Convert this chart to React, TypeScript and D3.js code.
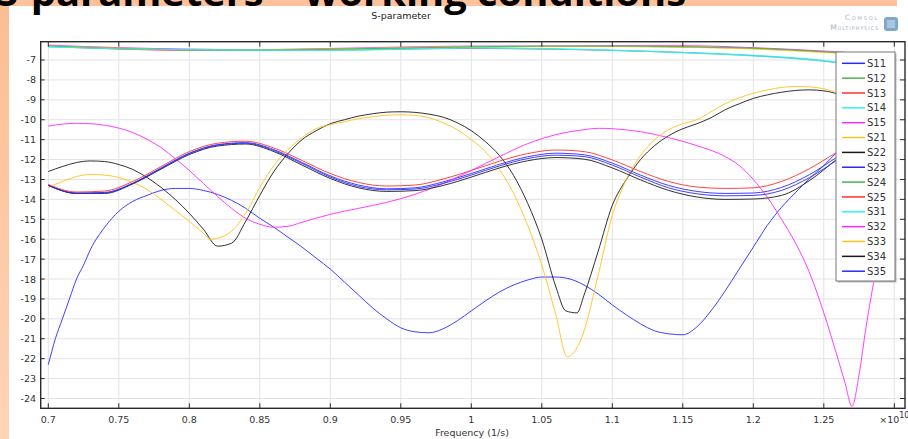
import React from 'react';
import * as d3 from 'd3';

const W = 908;
const H = 439;

// frequency axis (x 1e10) and dB axis
const xTicks = [0.7, 0.75, 0.8, 0.85, 0.9, 0.95, 1, 1.05, 1.1, 1.15, 1.2, 1.25, 1.3];
const yTicks = [-7, -8, -9, -10, -11, -12, -13, -14, -15, -16, -17, -18, -19, -20, -21, -22, -23, -24];

const names = ['S11', 'S12', 'S13', 'S14', 'S15', 'S21', 'S22', 'S23', 'S24', 'S25', 'S31', 'S32', 'S33', 'S34', 'S35'];
const colors = ['#2a2aff', '#4cb44c', '#ff3030', '#2af4f4', '#ff2aff', '#ffc21a', '#1a1a1a', '#2a2aff',
  '#4cb44c', '#ff3030', '#2af4f4', '#ff2aff', '#ffc21a', '#1a1a1a', '#2a2aff'];

const s11: [number, number][] = [[0.7, -22.3], [0.705, -21.0], [0.71, -20.0], [0.715, -19.0], [0.72, -18.0], [0.725, -17.3],
  [0.73, -16.5], [0.74, -15.4], [0.75, -14.6], [0.76, -14.1], [0.77, -13.8], [0.78, -13.55], [0.79, -13.45], [0.8, -13.45],
  [0.81, -13.55], [0.82, -13.75], [0.83, -14.05], [0.84, -14.45], [0.85, -14.95], [0.86, -15.4], [0.87, -15.9], [0.88, -16.4],
  [0.89, -16.95], [0.9, -17.5], [0.91, -18.15], [0.92, -18.8], [0.93, -19.45], [0.94, -20.0], [0.95, -20.45], [0.96, -20.65],
  [0.97, -20.7], [0.98, -20.5], [0.99, -20.1], [1.0, -19.6], [1.01, -19.1], [1.02, -18.65], [1.03, -18.3], [1.04, -18.05],
  [1.05, -17.9], [1.06, -17.9], [1.07, -18.0], [1.08, -18.3], [1.09, -18.75], [1.1, -19.3], [1.11, -19.8], [1.12, -20.25],
  [1.13, -20.6], [1.14, -20.75], [1.15, -20.8], [1.16, -20.4], [1.17, -19.6], [1.18, -18.6], [1.19, -17.5], [1.2, -16.4],
  [1.21, -15.3], [1.22, -14.4], [1.23, -13.65], [1.24, -12.95], [1.25, -12.3], [1.26, -11.6], [1.27, -11.1], [1.28, -10.9],
  [1.29, -10.8], [1.3, -10.85]];

const s12: [number, number][] = [[0.7, -6.3], [0.75, -6.4], [0.8, -6.48], [0.85, -6.48], [0.9, -6.45], [0.95, -6.4], [1.0, -6.35],
  [1.05, -6.32], [1.1, -6.32], [1.15, -6.35], [1.2, -6.42], [1.25, -6.6], [1.3, -6.8]];
const s13: [number, number][] = [[0.7, -6.32], [0.75, -6.45], [0.8, -6.52], [0.85, -6.5], [0.9, -6.5], [0.95, -6.45], [1.0, -6.42],
  [1.05, -6.45], [1.1, -6.52], [1.15, -6.62], [1.2, -6.78], [1.25, -7.05], [1.3, -7.55]];
const s14: [number, number][] = [[0.7, -6.35], [0.75, -6.42], [0.8, -6.5], [0.85, -6.52], [0.9, -6.5], [0.95, -6.45], [1.0, -6.38],
  [1.05, -6.42], [1.1, -6.5], [1.15, -6.62], [1.2, -6.76], [1.25, -7.02], [1.3, -7.56]];
const s15: [number, number][] = [[0.7, -6.25], [0.75, -6.38], [0.8, -6.45], [0.85, -6.48], [0.9, -6.42], [0.95, -6.35], [1.0, -6.3],
  [1.05, -6.3], [1.1, -6.28], [1.15, -6.28], [1.2, -6.38], [1.25, -6.55], [1.3, -6.78]];
const s21: [number, number][] = [[0.7, -6.3], [0.75, -6.4], [0.8, -6.48], [0.85, -6.48], [0.9, -6.44], [0.95, -6.38], [1.0, -6.33],
  [1.05, -6.32], [1.1, -6.32], [1.15, -6.36], [1.2, -6.45], [1.25, -6.62], [1.3, -6.8]];

const s22: [number, number][] = [[0.7, -12.6], [0.71, -12.35], [0.72, -12.15], [0.73, -12.07], [0.74, -12.1], [0.75, -12.25],
  [0.76, -12.5], [0.77, -12.9], [0.78, -13.4], [0.79, -14.0], [0.8, -14.7], [0.81, -15.5], [0.82, -16.35], [0.83, -16.2],
  [0.84, -15.1], [0.85, -13.8], [0.86, -12.6], [0.87, -11.7], [0.88, -11.0], [0.89, -10.55], [0.9, -10.2], [0.91, -10.0],
  [0.92, -9.82], [0.93, -9.7], [0.94, -9.62], [0.95, -9.6], [0.96, -9.63], [0.97, -9.72], [0.98, -9.87], [0.99, -10.15],
  [1.0, -10.55], [1.01, -11.1], [1.02, -11.8], [1.03, -12.8], [1.04, -14.2], [1.05, -16.0], [1.06, -18.4], [1.067, -19.6],
  [1.075, -19.7], [1.08, -18.8], [1.09, -16.6], [1.1, -14.3], [1.11, -13.0], [1.12, -12.0], [1.13, -11.3], [1.14, -10.8],
  [1.15, -10.45], [1.16, -10.2], [1.17, -9.9], [1.18, -9.5], [1.19, -9.2], [1.2, -8.93], [1.21, -8.75], [1.22, -8.62],
  [1.23, -8.53], [1.24, -8.5], [1.25, -8.55], [1.26, -8.72], [1.27, -9.1], [1.28, -9.8], [1.29, -10.6], [1.3, -11.5]];

const s23: [number, number][] = [[0.7, -13.28], [0.72, -13.68], [0.74, -13.65], [0.76, -13.18], [0.78, -12.42], [0.8, -11.68],
  [0.82, -11.25], [0.84, -11.15], [0.86, -11.5], [0.88, -12.15], [0.9, -12.82], [0.92, -13.28], [0.94, -13.47], [0.96, -13.42],
  [0.98, -13.12], [1.0, -12.7], [1.02, -12.24], [1.04, -11.86], [1.06, -11.68], [1.08, -11.76], [1.1, -12.18], [1.12, -12.78],
  [1.14, -13.3], [1.16, -13.6], [1.18, -13.7], [1.2, -13.68], [1.22, -13.4], [1.24, -12.75], [1.26, -11.85], [1.28, -11.0],
  [1.3, -10.3]];
const s24: [number, number][] = [[0.7, -6.3], [0.75, -6.42], [0.8, -6.5], [0.85, -6.5], [0.9, -6.46], [0.95, -6.4], [1.0, -6.34],
  [1.05, -6.3], [1.1, -6.3], [1.15, -6.33], [1.2, -6.4], [1.25, -6.58], [1.3, -6.82]];
const s25: [number, number][] = [[0.7, -13.25], [0.72, -13.63], [0.74, -13.58], [0.76, -13.1], [0.78, -12.35], [0.8, -11.6],
  [0.82, -11.18], [0.84, -11.08], [0.86, -11.42], [0.88, -12.05], [0.9, -12.7], [0.92, -13.15], [0.94, -13.33], [0.96, -13.28],
  [0.98, -12.98], [1.0, -12.55], [1.02, -12.08], [1.04, -11.7], [1.06, -11.52], [1.08, -11.6], [1.1, -12.02], [1.12, -12.6],
  [1.14, -13.1], [1.16, -13.38], [1.18, -13.45], [1.2, -13.42], [1.22, -13.1], [1.24, -12.45], [1.26, -11.6], [1.28, -10.8],
  [1.3, -10.1]];
const s31: [number, number][] = [[0.7, -6.33], [0.75, -6.44], [0.8, -6.48], [0.85, -6.5], [0.9, -6.52], [0.95, -6.47], [1.0, -6.4],
  [1.05, -6.44], [1.1, -6.52], [1.15, -6.64], [1.2, -6.8], [1.25, -7.06], [1.3, -7.56]];

const s32: [number, number][] = [[0.7, -10.32], [0.71, -10.22], [0.72, -10.18], [0.73, -10.2], [0.74, -10.28], [0.75, -10.42],
  [0.76, -10.65], [0.77, -10.98], [0.78, -11.4], [0.79, -11.95], [0.8, -12.55], [0.81, -13.2], [0.82, -13.85], [0.83, -14.45],
  [0.84, -14.95], [0.85, -15.25], [0.86, -15.4], [0.87, -15.35], [0.88, -15.15], [0.9, -14.75], [0.92, -14.45], [0.94, -14.15],
  [0.96, -13.75], [0.98, -13.2], [1.0, -12.55], [1.02, -11.85], [1.04, -11.2], [1.06, -10.75], [1.08, -10.5], [1.09, -10.43],
  [1.1, -10.45], [1.12, -10.6], [1.14, -10.9], [1.16, -11.3], [1.18, -11.85], [1.19, -12.3], [1.2, -13.0], [1.21, -13.9],
  [1.22, -15.0], [1.23, -16.2], [1.24, -17.7], [1.25, -19.7], [1.26, -22.0], [1.265, -23.2], [1.27, -24.4], [1.275, -22.8],
  [1.28, -20.4], [1.285, -18.3], [1.29, -16.3], [1.3, -12.8]];

const s33: [number, number][] = [[0.7, -13.4], [0.71, -13.1], [0.72, -12.85], [0.73, -12.75], [0.74, -12.78], [0.75, -12.9],
  [0.76, -13.15], [0.77, -13.5], [0.78, -14.0], [0.79, -14.55], [0.8, -15.1], [0.81, -15.7], [0.815, -16.0], [0.82, -15.95],
  [0.83, -15.6], [0.84, -14.7], [0.85, -13.4], [0.86, -12.3], [0.87, -11.5], [0.88, -10.9], [0.89, -10.45], [0.9, -10.25],
  [0.91, -10.1], [0.92, -9.95], [0.93, -9.85], [0.94, -9.77], [0.95, -9.75], [0.96, -9.78], [0.97, -9.9], [0.98, -10.15],
  [0.99, -10.5], [1.0, -11.0], [1.01, -11.6], [1.02, -12.5], [1.03, -13.7], [1.04, -15.3], [1.05, -17.3], [1.06, -19.8],
  [1.068, -21.9], [1.078, -21.0], [1.09, -17.8], [1.1, -14.8], [1.11, -13.0], [1.12, -11.8], [1.13, -11.0], [1.14, -10.5],
  [1.15, -10.2], [1.16, -10.0], [1.17, -9.6], [1.18, -9.2], [1.19, -8.9], [1.2, -8.67], [1.21, -8.5], [1.22, -8.38],
  [1.23, -8.33], [1.24, -8.35], [1.25, -8.45], [1.26, -8.7], [1.27, -9.3], [1.28, -10.5], [1.29, -12.3], [1.3, -14.4]];

const s34: [number, number][] = [[0.7, -13.3], [0.72, -13.7], [0.74, -13.7], [0.76, -13.22], [0.78, -12.48], [0.8, -11.75],
  [0.82, -11.32], [0.84, -11.22], [0.86, -11.6], [0.88, -12.28], [0.9, -12.95], [0.92, -13.42], [0.94, -13.6], [0.96, -13.56],
  [0.98, -13.3], [1.0, -12.88], [1.02, -12.42], [1.04, -12.06], [1.06, -11.9], [1.08, -11.98], [1.1, -12.42], [1.12, -13.02],
  [1.14, -13.55], [1.16, -13.88], [1.18, -14.0], [1.2, -13.98], [1.22, -13.8], [1.24, -13.05], [1.26, -11.95], [1.28, -11.0],
  [1.3, -10.3]];
const s35: [number, number][] = [[0.7, -13.3], [0.72, -13.7], [0.74, -13.68], [0.76, -13.2], [0.78, -12.45], [0.8, -11.7],
  [0.82, -11.28], [0.84, -11.18], [0.86, -11.55], [0.88, -12.2], [0.9, -12.88], [0.92, -13.35], [0.94, -13.52], [0.96, -13.48],
  [0.98, -13.2], [1.0, -12.78], [1.02, -12.32], [1.04, -11.95], [1.06, -11.78], [1.08, -11.85], [1.1, -12.28], [1.12, -12.88],
  [1.14, -13.42], [1.16, -13.72], [1.18, -13.82], [1.2, -13.8], [1.22, -13.55], [1.24, -12.9], [1.26, -12.0], [1.28, -11.1],
  [1.3, -10.4]];

const allSeries = [s11, s12, s13, s14, s15, s21, s22, s23, s24, s25, s31, s32, s33, s34, s35];

const plot = { left: 40.7, right: 905, top: 41.7, bottom: 408.3 };
const font = '"DejaVu Sans", sans-serif';

export default function App() {
  const x = d3.scaleLinear().domain([0.69461, 1.30759]).range([plot.left, plot.right]);
  const y = d3.scaleLinear().domain([-24.492, -6.081]).range([plot.bottom, plot.top]);
  const line = d3.line<[number, number]>()
    .x(d => x(d[0]))
    .y(d => y(d[1]))
    .curve(d3.curveMonotoneX);

  const fmt = (v: number) => String(+v.toFixed(2));
  const legendX = 836, legendY = 52, legendW = 59, legendH = 229;

  return (
    <svg width={W} height={H} style={{ position: 'absolute', left: 0, top: 0, background: '#fff' }}
      fontFamily={font}>
      <defs>
        <linearGradient id="side" x1="0" y1="0" x2="0" y2="1">
          <stop offset="0" stopColor="#fcbd93" />
          <stop offset="1" stopColor="#ffd4b6" />
        </linearGradient>
        <clipPath id="plotClip">
          <rect x={plot.left} y={plot.top} width={plot.right - plot.left} height={plot.bottom - plot.top} />
        </clipPath>
      </defs>

      {/* slide background bits */}
      <rect x={0} y={0} width={897} height={6} fill="#fdc29c" />
      <rect x={0} y={0} width={9} height={H} fill="url(#side)" />
      <text x={-4} y={6} fontSize={38} fontWeight="bold" fill="#000" textLength={690} lengthAdjust="spacingAndGlyphs"
        fontFamily='"Open Sans", "DejaVu Sans", sans-serif'>S-parameters – working conditions</text>

      <text x={401} y={19} fontSize={9.5} textAnchor="middle" fill="#222">S-parameter</text>

      {/* logo */}
      <g fill="#a3b6c9" fontFamily={font} style={{ fontVariant: 'small-caps' }}>
        <text x={879} y={20} fontSize={7.5} textAnchor="end" letterSpacing={1.8}>Comsol</text>
        <text x={879} y={29.5} fontSize={7.5} textAnchor="end" letterSpacing={0.9}>Multiphysics</text>
      </g>
      <rect x={884} y={17} width={14} height={14} rx={3} fill="#7ea8cc" />
      <path d="M887,20 L895,20 L895,28 L887,28 Z" fill="#c9dced" opacity={0.6} />

      {/* grid */}
      <g stroke="#e3e3e3" strokeWidth={1}>
        {xTicks.map(t => <line key={'gx' + t} x1={x(t)} x2={x(t)} y1={plot.top} y2={plot.bottom} />)}
        {yTicks.map(t => <line key={'gy' + t} x1={plot.left} x2={plot.right} y1={y(t)} y2={y(t)} />)}
      </g>

      {/* curves */}
      <g clipPath="url(#plotClip)" fill="none" strokeWidth={0.9}>
        {allSeries.map((s, i) => (
          <path key={names[i]} d={line(s) || ''} stroke={colors[i]} />
        ))}
      </g>

      {/* frame + inward ticks */}
      <rect x={plot.left} y={plot.top} width={plot.right - plot.left} height={plot.bottom - plot.top}
        fill="none" stroke="#2a2a2a" strokeWidth={1.4} />
      <g stroke="#2a2a2a" strokeWidth={1}>
        {xTicks.map(t => (
          <g key={'tx' + t}>
            <line x1={x(t)} x2={x(t)} y1={plot.bottom} y2={plot.bottom - 5} />
            <line x1={x(t)} x2={x(t)} y1={plot.top} y2={plot.top + 5} />
          </g>
        ))}
        {yTicks.map(t => (
          <g key={'ty' + t}>
            <line x1={plot.left} x2={plot.left + 4} y1={y(t)} y2={y(t)} />
            <line x1={plot.right} x2={plot.right - 5} y1={y(t)} y2={y(t)} />
          </g>
        ))}
      </g>

      {/* tick labels */}
      <g fontSize={9.5} fill="#333">
        {xTicks.slice(0, -1).map(t => (
          <text key={'lx' + t} x={x(t)} y={422.5} textAnchor="middle">{fmt(t)}</text>
        ))}
        <text x={x(1.3)} y={422.5} textAnchor="middle">×10<tspan dy={-5} fontSize={8}>10</tspan></text>
        {yTicks.map(t => (
          <text key={'ly' + t} x={36} y={y(t) + 3.5} textAnchor="end">{t}</text>
        ))}
        <text x={472} y={435.5} textAnchor="middle">Frequency (1/s)</text>
      </g>

      {/* legend */}
      <rect x={legendX + 1.5} y={legendY + 1.5} width={legendW} height={legendH} fill="#bbb" />
      <rect x={legendX} y={legendY} width={legendW} height={legendH} fill="#fff" stroke="#777" strokeWidth={1} />
      {names.map((n, i) => {
        const yy = legendY + 11.3 + i * 14.85;
        return (
          <g key={'lg' + n}>
            <line x1={legendX + 6} x2={legendX + 29} y1={yy} y2={yy} stroke={colors[i]} strokeWidth={1.5} />
            <text x={legendX + 31} y={yy + 3.6} fontSize={10} fill="#333">{n}</text>
          </g>
        );
      })}
    </svg>
  );
}
